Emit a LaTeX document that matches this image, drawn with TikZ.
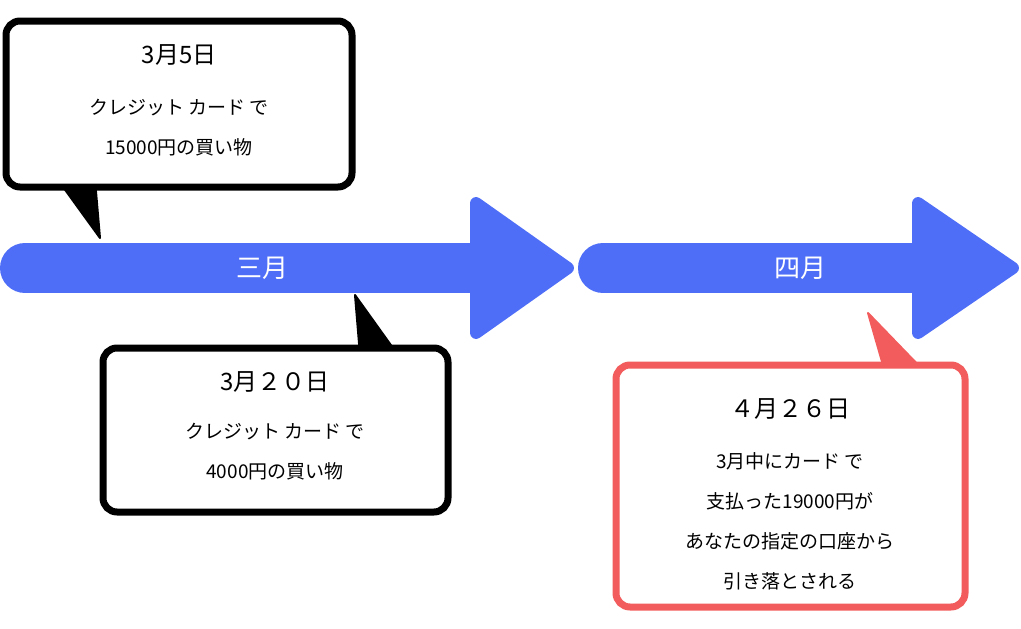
\documentclass[tikz,border=0pt]{standalone}
\usepackage{fontspec}
\newfontfamily\jp{Noto Sans CJK JP}
\definecolor{ablue}{HTML}{4F6EF7}
\definecolor{ared}{HTML}{F25C5C}
\tikzset{
  shaft/.style={ablue,line width=50pt,line cap=round},
  head/.style={fill=ablue,draw=ablue,line width=12pt,line join=round},
  bubble/.style={draw=#1,line width=7pt,rounded corners=14pt,fill=white},
  tail/.style={fill=#1,draw=#1,line width=2pt,line join=round},
  title/.style={font=\jp\fontsize{24}{28}\selectfont,text=black},
  body/.style={font=\jp\fontsize{19}{40}\selectfont,text=black,align=center},
  alabel/.style={font=\jp\fontsize{26}{30}\selectfont,text=white}
}
\begin{document}
\begin{tikzpicture}[x=1pt,y=-1pt]
\useasboundingbox (0,0) rectangle (1021,629);
% arrows
\draw[shaft] (25,268) -- (480,268);
\draw[head] (476,203) -- (568,268) -- (476,333) -- cycle;
\node[alabel] (m3) at (262,268) {三月};
\draw[shaft] (603,268) -- (922,268);
\draw[head] (918,203) -- (1013,268) -- (918,333) -- cycle;
\node[alabel] (m4) at (800,268) {四月};
% bubble 1
\draw[tail=black] (58,180) -- (100,238) -- (95,180) -- cycle;
\draw[bubble=black] (6,21) rectangle (352,187);
\node[title] (t1) at (179,55) {3月5日};
\node[body] (b1) at (179,128) {クレジット カード で\\15000円の買い物};
% bubble 2
\draw[tail=black] (360,355) -- (355,295) -- (398,355) -- cycle;
\draw[bubble=black] (103,348) rectangle (448,512);
\node[title] (t2) at (275,382) {3月２０日};
\node[body] (b2) at (275,452) {クレジット カード で\\4000円の買い物};
% bubble 3
\draw[tail=ared] (885,372) -- (868,313) -- (925,372) -- cycle;
\draw[bubble=ared] (616,365) rectangle (965,607);
\node[title] (t3) at (790,409) {４月２６日};
\node[body] (b3) at (790,521) {3月中にカード で\\支払った19000円が\\あなたの指定の口座から\\引き落とされる};
\end{tikzpicture}
\end{document}
